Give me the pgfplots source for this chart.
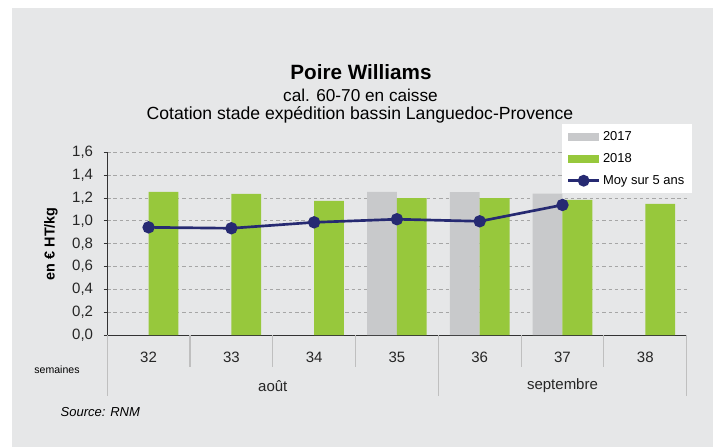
\documentclass[border=0pt]{standalone}
\usepackage{fontspec}
\setmainfont{Liberation Sans}
\usepackage{pgfplots}
\pgfplotsset{compat=1.18}
\definecolor{bgc}{HTML}{E6E7E8}
\definecolor{gry}{HTML}{C8C9CB}
\definecolor{grn}{HTML}{97C83C}
\definecolor{nav}{HTML}{262A72}
\definecolor{sep}{HTML}{BFBFBF}
\begin{document}
\begin{tikzpicture}[x=0.75pt,y=0.75pt]
\fill[white] (0,0) rectangle (720,447);
\fill[bgc] (12,0) rectangle (713,439);
\node[font=\bfseries\fontsize{15.5}{18}\selectfont] at (361,447-72) {Poire Williams};
\node[font=\fontsize{12.9}{15}\selectfont] at (360.5,447-95) {cal. 60-70 en caisse};
\node[font=\fontsize{13.2}{15}\selectfont] at (360,447-115) {Cotation stade expédition bassin Languedoc-Provence};
\node[font=\fontsize{7.9}{9}\selectfont] at (57,447-370) {semaines};
\node[font=\itshape\fontsize{9.75}{11}\selectfont, anchor=west] at (56,447-412) {Source: RNM};
\begin{axis}[
  at={(129.5,98)}, anchor=south west,
  scale only axis, width=434.6pt, height=137pt,
  xmin=-0.5, xmax=6.5, ymin=0, ymax=1.6,
  axis lines=left, axis line style={-, draw=black!80, line width=0.8pt},
  clip=false,
  ytick={0,0.2,...,1.6},
  /pgf/number format/use comma, /pgf/number format/fixed, /pgf/number format/fixed zerofill,
  /pgf/number format/precision=1, /pgf/number format/assume math mode=true,
  yticklabel style={font=\fontsize{11.25}{13}\selectfont, text=black!85, xshift=-4.5pt},
  ymajorgrids, grid style={draw=black!35, line width=0.7pt, dash pattern=on 2.5pt off 2.2pt},
  tick align=outside, major tick length=2.6pt,
  ytick style={draw=black!80, line width=0.8pt},
  xtick={0,...,6}, xticklabels={32,33,34,35,36,37,38},
  xtick style={draw=none},
  xticklabel style={font=\fontsize{11.25}{13}\selectfont, text=black!85, yshift=-6.5pt},
  ylabel={\bfseries en € HT/kg}, ylabel style={font=\fontsize{10.8}{13}\selectfont},
  ylabel shift=4pt,
  legend style={at={(0.785,1.155)}, anchor=north west, draw=none, fill=white,
    font=\fontsize{9.7}{11}\selectfont, inner xsep=3.5pt, inner ysep=3pt, row sep=4.3pt},
  legend cell align=left,
]
\addplot[ybar, bar width=0.36, bar shift=-0.18, fill=gry, draw=none,
  legend image code/.code={\fill[gry] (0pt,-3pt) rectangle (23pt,3pt);}]
  coordinates {(3,1.254) (4,1.252) (5,1.24)};
\addlegendentry{2017}
\addplot[ybar, bar width=0.36, bar shift=0.18, fill=grn, draw=none,
  legend image code/.code={\fill[grn] (0pt,-3pt) rectangle (23pt,3pt);}]
  coordinates {(0,1.255) (1,1.237) (2,1.176) (3,1.20) (4,1.20) (5,1.185) (6,1.15)};
\addlegendentry{2018}
\addplot[nav, line width=2pt, mark=*, mark size=3.6pt, mark options={fill=nav, draw=nav},
  legend image code/.code={\draw[nav, line width=2pt] (0pt,0pt) -- (23pt,0pt); \fill[nav] (11.5pt,0pt) circle (3.4pt);}]
  coordinates {(0,0.944) (1,0.936) (2,0.988) (3,1.015) (4,0.997) (5,1.14)};
\addlegendentry{Moy sur 5 ans}
\draw[sep, line width=0.8pt] (axis cs:0.5,0) -- ([yshift=-24pt]axis cs:0.5,0);
\draw[sep, line width=0.8pt] (axis cs:1.5,0) -- ([yshift=-24pt]axis cs:1.5,0);
\draw[sep, line width=0.8pt] (axis cs:2.5,0) -- ([yshift=-24pt]axis cs:2.5,0);
\draw[sep, line width=0.8pt] (axis cs:4.5,0) -- ([yshift=-24pt]axis cs:4.5,0);
\draw[sep, line width=0.8pt] (axis cs:5.5,0) -- ([yshift=-24pt]axis cs:5.5,0);
\draw[sep, line width=0.8pt] (axis cs:-0.5,0) -- ([yshift=-45.75pt]axis cs:-0.5,0);
\draw[sep, line width=0.8pt] (axis cs:3.5,0) -- ([yshift=-45.75pt]axis cs:3.5,0);
\draw[sep, line width=0.8pt] (axis cs:6.5,0) -- ([yshift=-45.75pt]axis cs:6.5,0);
\node[font=\fontsize{11.25}{13}\selectfont, text=black!85, yshift=-38pt] at (axis cs:1.5,0) {août};
\node[font=\fontsize{11.25}{13}\selectfont, text=black!85, yshift=-38pt] at (axis cs:5,0) {septembre};
\end{axis}
\end{tikzpicture}
\end{document}
